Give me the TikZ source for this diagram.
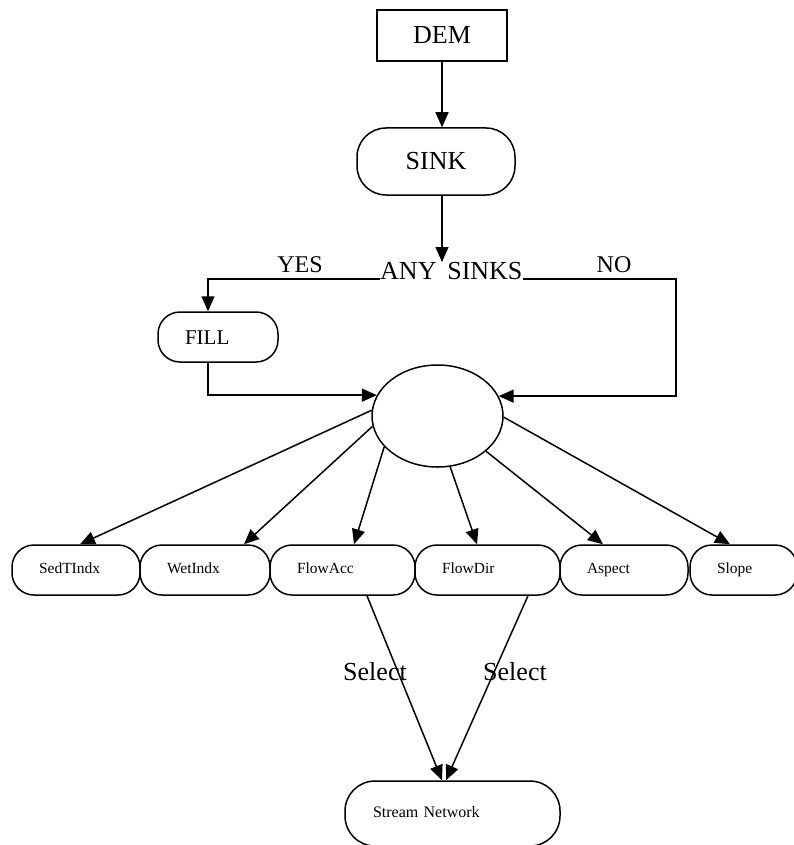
\documentclass[tikz,border=0pt]{standalone}
\usepackage{fontspec}
\setmainfont{Liberation Serif}
\usetikzlibrary{arrows.meta,shapes.geometric}
\tikzset{
  line/.style={line width=1.5pt},
  arr/.style={line, -{Triangle[length=15pt,width=13pt]}},
  pill/.style={draw, line width=1.5pt, rounded corners=22pt, minimum height=50pt,
    inner xsep=27pt, inner ysep=0pt, align=left, text height=11pt, text depth=4pt,
    font=\fontsize{15.5}{18}\selectfont},
  big/.style={font=\fontsize{26}{30}\selectfont, inner sep=1pt},
}
\begin{document}
\begin{tikzpicture}[x=1pt,y=-1pt]
\useasboundingbox (0,0) rectangle (793,845);
% top
\node[draw, line, minimum width=130pt, minimum height=51pt, big] (dem) at (442,35.5) {DEM};
\node[draw, line, rounded corners=29pt, minimum width=158pt, minimum height=67pt, big] (sink) at (436,161.5) {SINK};
\node[big, inner sep=0pt, anchor=base west] (anys) at (380,279) {ANY\, SINKS};
\coordinate (q) at (442,262);
\coordinate (nocorner) at (676,279);
\node[big, font=\fontsize{24}{28}\selectfont] (yes) at (300,265) {YES};
\node[big, font=\fontsize{24}{28}\selectfont] (no) at (614,265) {NO};
\node[pill, text width=66pt, text height=15pt, text depth=0pt, font=\fontsize{21}{24}\selectfont] (fill) at (218,337) {FILL};
\node[draw, line, ellipse, minimum width=131pt, minimum height=102pt] (ell) at (437.5,416) {};
% bottom row
\node[pill, text width=74pt] (sed) at (76,570) {SedTIndx};
\node[pill, text width=76pt] (wet) at (205,570) {WetIndx};
\node[pill, text width=91pt] (facc) at (342.5,570) {FlowAcc};
\node[pill, text width=91pt] (fdir) at (487.5,570) {FlowDir};
\node[pill, text width=74pt] (asp) at (624,570) {Aspect};
\node[pill, text width=53pt] (slope) at (743.5,570) {Slope};
\node[pill, rounded corners=30pt, minimum height=65pt, inner xsep=28pt, text width=159pt,
  text height=16pt, text depth=9pt, font=\fontsize{16}{19}\selectfont] (stream) at (452.5,813.5) {Stream Network};
\node[big] (sel1) at (375,672) {Select};
\node[big] (sel2) at (515,672) {Select};
% connectors
\draw[arr] (dem.south) -- (dem.south |- sink.north);
\draw[arr] (sink.south -| dem.south) -- (q);
\draw[arr] (anys.base west) -| ([xshift=-10pt]fill.north);
\draw[arr] (anys.base east) -- (nocorner) |- (ell.18);
\draw[arr] ([xshift=-10pt]fill.south) |- (ell.161);
\draw[arr] (ell.175) -- ([xshift=4pt]sed.north);
\draw[arr] (ell.189) -- ([xshift=39pt]wet.north);
\draw[arr] (ell.210) -- ([xshift=11.5pt]facc.north);
\draw[arr] (ell.284) -- ([xshift=-10.5pt]fdir.north);
\draw[arr] (ell.324) -- ([xshift=-21pt]asp.north);
\draw[arr] (ell.359) -- ([xshift=-13.5pt]slope.north);
\draw[arr] ([xshift=24.5pt]facc.south) -- ([xshift=-10.5pt]stream.north);
\draw[arr] ([xshift=40.5pt]fdir.south) -- ([xshift=-6.5pt]stream.north);
\end{tikzpicture}
\end{document}
